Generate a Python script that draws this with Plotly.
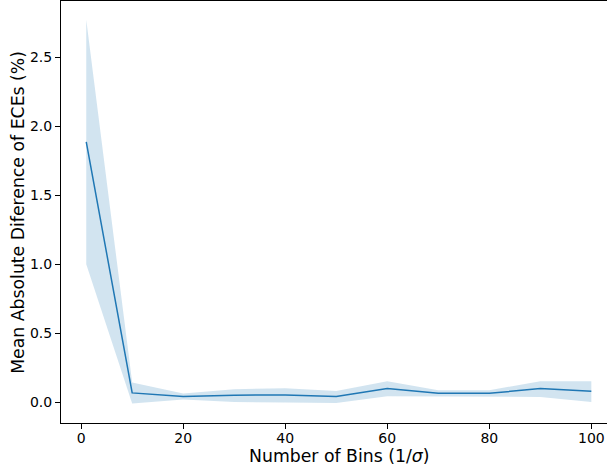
import plotly.graph_objects as go

bins = [1, 10, 20, 30, 40, 50, 60, 70, 80, 90, 100]
mean_diff = [1.887, 0.070, 0.044, 0.053, 0.055, 0.043, 0.101, 0.067, 0.067, 0.101, 0.082]
upper = [2.770, 0.145, 0.065, 0.096, 0.104, 0.084, 0.154, 0.089, 0.089, 0.154, 0.154]
lower = [1.000, -0.007, 0.022, 0.004, 0.000, -0.003, 0.046, 0.046, 0.046, 0.041, 0.004]

x_title = "Number of Bins (1/<i>σ</i>)"
y_title = "Mean Absolute Diference of ECEs (%)"

blue = "#1f77b4"
font = "DejaVu Sans"

fig = go.Figure()
fig.add_trace(go.Scatter(x=bins, y=lower, mode="lines", line=dict(width=0, color=blue),
                         showlegend=False, hoverinfo="skip"))
fig.add_trace(go.Scatter(x=bins, y=upper, mode="lines", line=dict(width=0, color=blue),
                         fill="tonexty", fillcolor="rgba(31,119,180,0.2)",
                         showlegend=False, hoverinfo="skip"))
fig.add_trace(go.Scatter(x=bins, y=mean_diff, mode="lines", line=dict(width=1.5, color=blue),
                         showlegend=False))

fig.update_layout(
    width=607, height=467,
    margin=dict(l=61, r=0, t=1, b=44),
    paper_bgcolor="white", plot_bgcolor="white",
    font=dict(family=font, size=14, color="black"),
    xaxis=dict(range=[-3.95, 103.07], tickmode="array", tickvals=[0, 20, 40, 60, 80, 100],
               showgrid=False, zeroline=False, showline=True, linecolor="black", linewidth=1,
               mirror=True, ticks="outside", ticklen=5, tickwidth=1, tickcolor="black",
               ticklabelstandoff=-3,
               tickfont=dict(family=font, size=14, color="black")),
    yaxis=dict(range=[-0.148, 2.906], tickmode="array", tickvals=[0, 0.5, 1.0, 1.5, 2.0, 2.5],
               tickformat=".1f",
               showgrid=False, zeroline=False, showline=True, linecolor="black", linewidth=1,
               ticks="outside", ticklen=5, tickwidth=1, tickcolor="black",
               tickfont=dict(family=font, size=14, color="black")),
    annotations=[
        dict(text=x_title, x=50.5, xref="x", y=-0.079, yref="paper", showarrow=False,
             xanchor="center", yanchor="middle", font=dict(family=font, size=17.3, color="black")),
        dict(text=y_title, x=-0.079, xref="paper", y=0.5, yref="paper", showarrow=False,
             textangle=-90, xanchor="center", yanchor="middle",
             font=dict(family=font, size=17.3, color="black")),
    ],
)

fig.write_html("out.html", config={"displayModeBar": False},
               post_script="document.body.style.margin='0';document.body.style.overflow='hidden';")
